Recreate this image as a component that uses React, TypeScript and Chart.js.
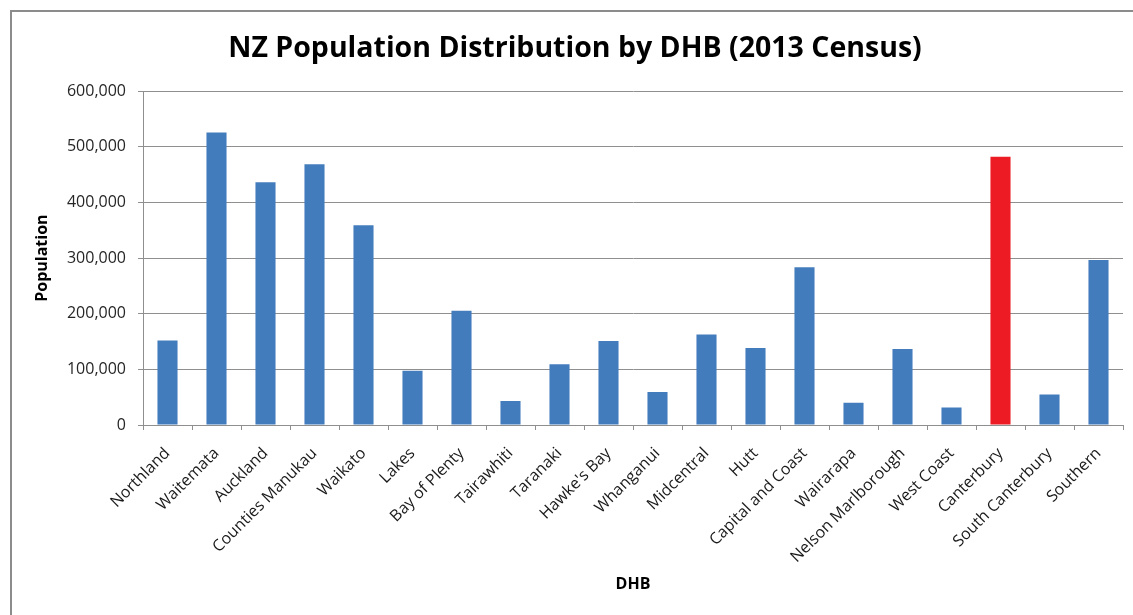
import React, { useEffect, useRef } from "react";
import { Chart, registerables } from "chart.js";

Chart.register(...registerables);

const dhbNames = [
  "Northland",
  "Waitemata",
  "Auckland",
  "Counties Manukau",
  "Waikato",
  "Lakes",
  "Bay of Plenty",
  "Tairawhiti",
  "Taranaki",
  "Hawke's Bay",
  "Whanganui",
  "Midcentral",
  "Hutt",
  "Capital and Coast",
  "Wairarapa",
  "Nelson Marlborough",
  "West Coast",
  "Canterbury",
  "South Canterbury",
  "Southern",
];

const population = [
  151700, 525600, 436300, 468500, 359000, 97300, 205200, 43000, 109000, 151200,
  59500, 162600, 138400, 283700, 40000, 136700, 31500, 482200, 55000, 296800,
];

const highlighted = "Canterbury";
const yTicks = [0, 100000, 200000, 300000, 400000, 500000, 600000];

const FONT = "'Open Sans', 'DejaVu Sans', sans-serif";
const BLUE = "#437CBC";
const RED = "#ED1C24";
const GRID = "#8F8F8F";

// Thin frame around the whole chart object
const framePlugin = {
  id: "frame",
  beforeDraw(chart: Chart) {
    const ctx = chart.ctx;
    ctx.save();
    ctx.fillStyle = "#ffffff";
    ctx.fillRect(0, 0, chart.width, chart.height);
    ctx.strokeStyle = "#8C8C8C";
    ctx.lineWidth = 2;
    ctx.strokeRect(11, 11, chart.width + 20, chart.height + 20);
    ctx.restore();
  },
};

export default function App() {
  const canvasRef = useRef<HTMLCanvasElement | null>(null);

  useEffect(() => {
    if (!canvasRef.current) return;
    Chart.defaults.font.family = FONT;
    const chart = new Chart(canvasRef.current, {
      type: "bar",
      data: {
        labels: dhbNames,
        datasets: [
          {
            label: "Population",
            data: population,
            backgroundColor: dhbNames.map((n) => (n === highlighted ? RED : BLUE)),
            barPercentage: 0.41,
            categoryPercentage: 1,
          },
        ],
      },
      options: {
        responsive: false,
        animation: false,
        layout: { padding: { left: 27, right: 10, top: 0, bottom: 0 } },
        plugins: {
          legend: { display: false },
          tooltip: { enabled: false },
          title: {
            display: true,
            text: "NZ Population Distribution by DHB (2013 Census)",
            color: "#000000",
            font: { size: 28.5, weight: "bold", family: FONT },
            padding: { top: 32, bottom: 25 },
          },
        },
        scales: {
          x: {
            offset: true,
            grid: {
              offset: true,
              drawOnChartArea: false,
              drawTicks: true,
              tickLength: 5,
              color: GRID,
            },
            border: { display: true, color: GRID, width: 1 },
            ticks: {
              color: "#1a1a1a",
              font: { size: 16, family: FONT },
              minRotation: 45,
              maxRotation: 45,
              autoSkip: false,
              padding: 14,
            },
            title: {
              display: true,
              text: "DHB",
              color: "#000000",
              font: { size: 16, weight: "bold", family: FONT },
              padding: { top: 0, bottom: 21 },
            },
            afterFit(scale: any) {
              scale.height = 190;
            },
          },
          y: {
            min: 0,
            max: 600000,
            afterBuildTicks(scale: any) {
              scale.ticks = yTicks.map((v) => ({ value: v }));
            },
            grid: {
              color: GRID,
              drawTicks: true,
              tickLength: 5,
            },
            border: { display: true, color: GRID, width: 1 },
            ticks: {
              color: "#262626",
              font: { size: 16, family: FONT },
              padding: 12,
              callback: (v: any) => Number(v).toLocaleString("en-US"),
            },
            title: {
              display: true,
              text: "Population",
              color: "#000000",
              font: { size: 16, weight: "bold", family: FONT },
              padding: { top: 6, bottom: 0 },
            },
            afterFit(scale: any) {
              scale.width = 116;
            },
          },
        },
      },
      plugins: [framePlugin],
    });
    return () => chart.destroy();
  }, []);

  return (
    <div style={{ position: "absolute", left: 0, top: 0, width: 1133, height: 615 }}>
      <canvas ref={canvasRef} width={1133} height={615} style={{ display: "block" }} />
    </div>
  );
}
